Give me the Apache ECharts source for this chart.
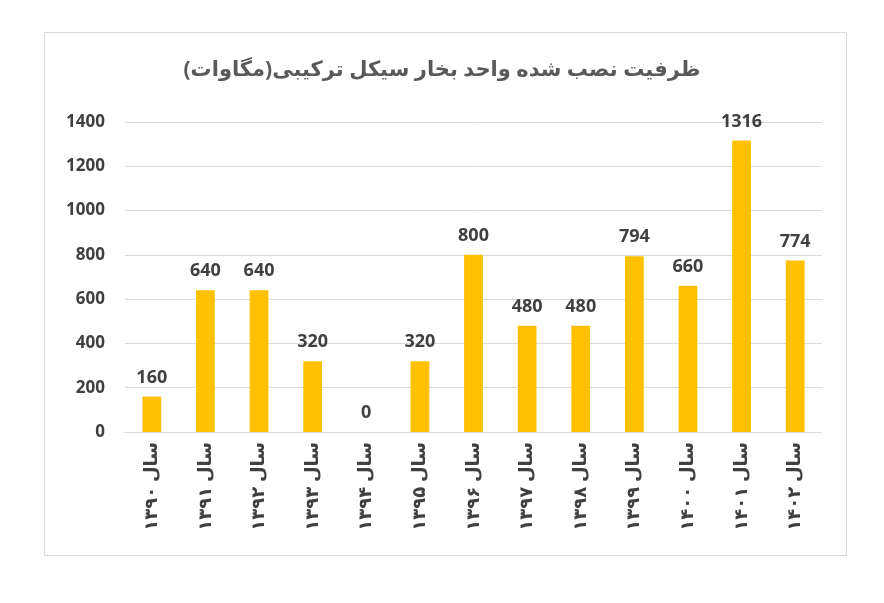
<!DOCTYPE html>
<html><head><meta charset="utf-8">
<script src="https://cdn.jsdelivr.net/npm/echarts@6/dist/echarts.min.js"></script>
<style>body{margin:0;background:#fff}#b{position:absolute;left:44px;top:32px;width:801px;height:522px;border:1px solid #d9d9d9}#c{width:884px;height:603px}</style>
</head><body><div id="b"></div><div id="c"></div>
<script>
const title = 'ظرفیت نصب شده واحد بخار سیکل ترکیبی(مگاوات)';
const categories = ['سال ۱۳۹۰','سال ۱۳۹۱','سال ۱۳۹۲','سال ۱۳۹۳','سال ۱۳۹۴','سال ۱۳۹۵','سال ۱۳۹۶','سال ۱۳۹۷','سال ۱۳۹۸','سال ۱۳۹۹','سال ۱۴۰۰','سال ۱۴۰۱','سال ۱۴۰۲'];
const values = [160,640,640,320,0,320,800,480,480,794,660,1316,774];
const chart = echarts.init(document.getElementById('c'));
chart.setOption({
  title:{text:title,left:'center',top:55,textStyle:{fontFamily:'Noto Sans, DejaVu Sans',fontSize:21,fontWeight:'bold',color:'#595959'}},
  grid:{left:125,right:62,top:122,bottom:171},
  xAxis:{type:'category',data:categories,axisTick:{show:false},axisLine:{lineStyle:{color:'#d9d9d9'}},
    axisLabel:{rotate:90,fontFamily:'Noto Sans, DejaVu Sans',fontSize:18,fontWeight:'bold',color:'#404040',margin:10}},
  yAxis:{type:'value',min:0,max:1400,interval:200,axisLabel:{formatter:v=>String(v),fontFamily:'Noto Sans, DejaVu Sans',fontSize:17,fontWeight:'bold',color:'#404040',margin:20},
    splitLine:{lineStyle:{color:'#d9d9d9'}}},
  series:[{type:'bar',data:values,barWidth:'35%',itemStyle:{color:'#FFC000'},
    label:{show:true,position:'top',distance:10,fontFamily:'Noto Sans, DejaVu Sans',fontSize:18,fontWeight:'bold',color:'#404040'}}]
});
</script></body></html>
